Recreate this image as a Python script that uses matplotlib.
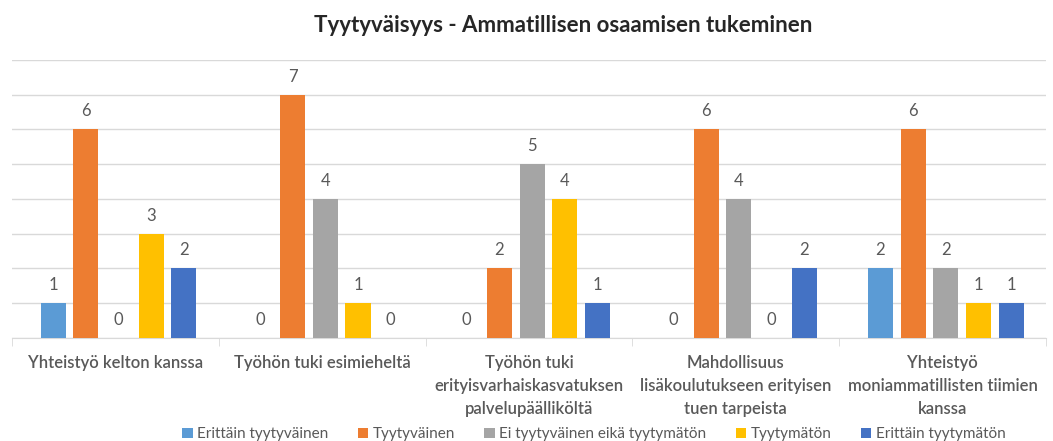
import numpy as np
import matplotlib.pyplot as plt

categories = [
    "Yhteistyö kelton kanssa",
    "Työhön tuki esimieheltä",
    "Työhön tuki\nerityisvarhaiskasvatuksen\npalvelupäälliköltä",
    "Mahdollisuus\nlisäkoulutukseen erityisen\ntuen tarpeista",
    "Yhteistyö\nmoniammatillisten tiimien\nkanssa",
]
series_names = [
    "Erittäin tyytyväinen",
    "Tyytyväinen",
    "Ei tyytyväinen eikä tyytymätön",
    "Tyytymätön",
    "Erittäin tyytymätön",
]
erittain_tyytyvainen = [1, 0, 0, 0, 2]
tyytyvainen = [6, 7, 2, 6, 6]
ei_kumpikaan = [0, 4, 5, 4, 2]
tyytymaton = [3, 1, 4, 0, 1]
erittain_tyytymaton = [2, 0, 1, 2, 1]
values = [erittain_tyytyvainen, tyytyvainen, ei_kumpikaan, tyytymaton, erittain_tyytymaton]
colors = ["#5B9BD5", "#ED7D31", "#A5A5A5", "#FFC000", "#4472C4"]

plt.rcParams['font.family'] = ['Lato', 'DejaVu Sans']
text_col = '#595959'

fig = plt.figure(figsize=(10.53, 4.41), dpi=100)
ax = fig.add_axes([0.0114, 0.2336, 0.982, 0.6304])

x = np.arange(len(categories))
w = 0.121
step = 0.158
for i, (name, vals, c) in enumerate(zip(series_names, values, colors)):
    pos = x + (i - 2) * step + 0.015
    bars = ax.bar(pos, vals, width=w, color=c, label=name, zorder=3)
    for b, v in zip(bars, vals):
        ax.annotate(str(v), (b.get_x() + b.get_width() / 2, v), xytext=(0, 13),
                    textcoords='offset points', ha='center', va='center',
                    fontsize=12, color=text_col)

ax.set_xlim(-0.5, len(categories) - 0.5)
ax.set_ylim(0, 8)
ax.set_yticks(range(0, 9))
ax.yaxis.grid(True, color='#D9D9D9', linewidth=1, zorder=0)
ax.tick_params(axis='y', left=False, labelleft=False)
for s in ['left', 'right', 'top']:
    ax.spines[s].set_visible(False)
ax.spines['bottom'].set_color('#D9D9D9')

ax.set_xticks(x)
ax.set_xticklabels(categories, fontsize=12, color=text_col, linespacing=1.55,
                   fontweight='semibold')
ax.tick_params(axis='x', length=0, pad=12)
ax.set_xticks(np.arange(-0.5, len(categories)), minor=True)
ax.tick_params(axis='x', which='minor', length=6, color='#D9D9D9')

fig.suptitle("Tyytyväisyys - Ammatillisen osaamisen tukeminen", x=0.535, y=0.965,
             fontsize=16, fontweight='bold', color='#262626')

fig.legend(loc='center', bbox_to_anchor=(0.564, 0.015), ncol=5, frameon=False,
           fontsize=11, labelcolor=text_col, handlelength=0.7, handleheight=0.7,
           handletextpad=0.3, columnspacing=1.9)

fig.savefig('out.png', dpi=100)
